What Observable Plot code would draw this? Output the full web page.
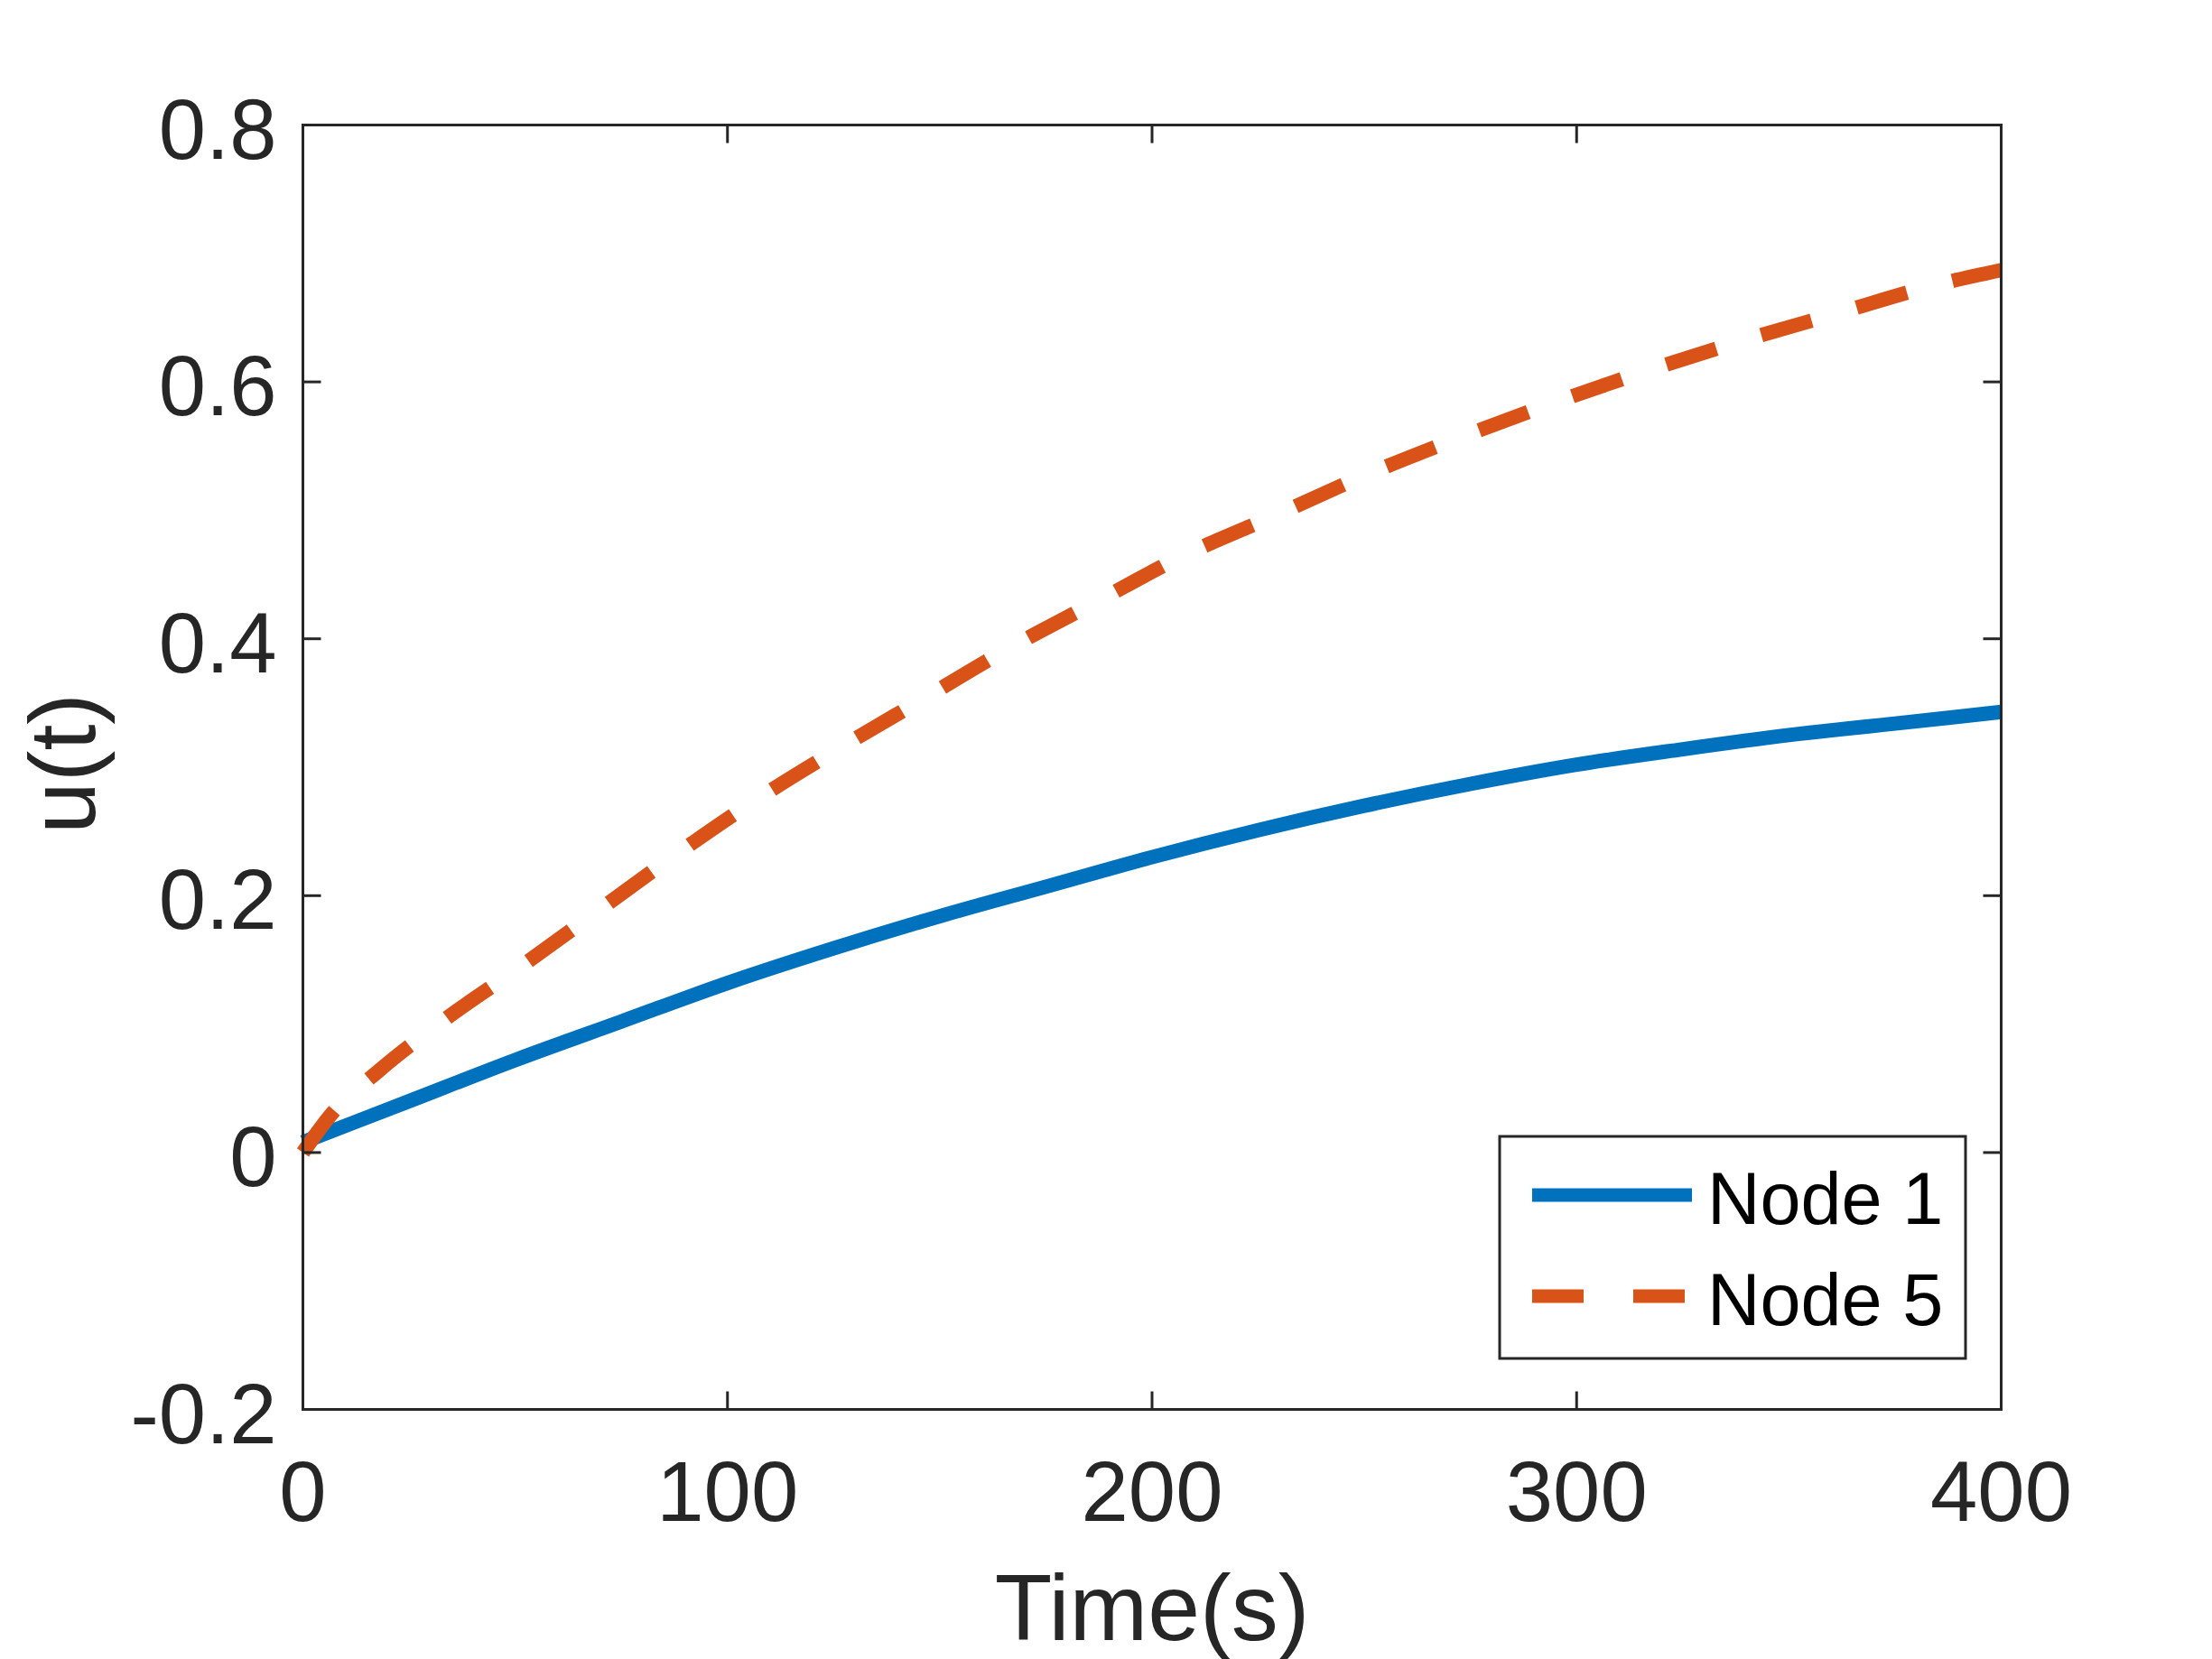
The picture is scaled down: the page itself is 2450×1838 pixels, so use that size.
<!DOCTYPE html>
<html><head><meta charset="utf-8">
<script src="https://cdn.jsdelivr.net/npm/d3@7"></script>
<script src="https://cdn.jsdelivr.net/npm/@observablehq/plot@0.6"></script>
<style>
html,body{margin:0;padding:0;background:#fff;}
#wrap{position:relative;width:2450px;height:1838px;overflow:hidden;}
#wrap svg{display:block;}
#legend{position:absolute;left:0;top:0;pointer-events:none;}
</style></head><body><div id="wrap"></div>
<script>
// ---- data ----
const node1T = [0, 25, 50, 75, 100, 125, 150, 175, 200, 225, 250, 275, 300, 325, 350, 375, 400];
const node1U = [0.008, 0.040, 0.072, 0.102, 0.132, 0.159, 0.184, 0.207, 0.230, 0.251, 0.270, 0.287, 0.302, 0.314, 0.325, 0.334, 0.343];
const node5T = [0, 7, 18, 34, 51, 69, 87, 106, 126, 146, 166, 187, 207, 229, 250, 272, 294, 316, 339, 362, 384, 400];
const node5U = [0, 0.031, 0.064, 0.105, 0.144, 0.187, 0.230, 0.273, 0.314, 0.353, 0.392, 0.429, 0.464, 0.496, 0.527, 0.556, 0.583, 0.608, 0.632, 0.654, 0.675, 0.687];
const seriesNames = ["Node 1", "Node 5"];
const seriesColors = ["#0072BD", "#D95319"];
const xTicks = [0, 100, 200, 300, 400];
const xTickLabels = ["0", "100", "200", "300", "400"];
const yTicks = [-0.2, 0, 0.2, 0.4, 0.6, 0.8];
const yTickLabels = ["-0.2", "0", "0.2", "0.4", "0.6", "0.8"];
const xLabel = "Time(s)";
const yLabel = "u(t)";

// ---- build ----
const FONT = "'Liberation Sans', Arial, Helvetica, sans-serif";
const AX = "#262626";
const node1 = node1T.map((t, i) => ({t, u: node1U[i]}));
const node5 = node5T.map((t, i) => ({t, u: node5U[i]}));
const xMin = xTicks[0], xMax = xTicks[xTicks.length - 1];
const yMin = yTicks[0], yMax = yTicks[yTicks.length - 1];

// inward tick symbol: a line of length 2r in a given direction
function tickSymbol(dx, dy) {
  return {draw(ctx, size) { const l = 2 * Math.sqrt(size / Math.PI); ctx.moveTo(0, 0); ctx.lineTo(dx * l, dy * l); }};
}
const tickStyle = {r: 10, fill: "none", stroke: AX, strokeWidth: 3};

const plot = Plot.plot({
  width: 2450, height: 1838,
  marginLeft: 335, marginRight: 234, marginTop: 138, marginBottom: 277,
  style: {fontFamily: FONT, background: "white", color: AX},
  x: {domain: [xMin, xMax]},
  y: {domain: [yMin, yMax]},
  marks: [
    Plot.line(node1, {x: "t", y: "u", stroke: seriesColors[0], strokeWidth: 16, curve: "monotone-x", strokeLinecap: "butt", strokeLinejoin: "round"}),
    Plot.line(node5, {x: "t", y: "u", stroke: seriesColors[1], strokeWidth: 16, curve: "monotone-x", strokeLinecap: "butt", strokeLinejoin: "round", strokeDasharray: "58,52"}),
    Plot.frame({stroke: AX, strokeWidth: 3}),
    Plot.dot(xTicks, {x: d => d, y: () => yMin, symbol: tickSymbol(0, -1), ...tickStyle}),
    Plot.dot(xTicks, {x: d => d, y: () => yMax, symbol: tickSymbol(0, 1), ...tickStyle}),
    Plot.dot(yTicks, {y: d => d, x: () => xMin, symbol: tickSymbol(1, 0), ...tickStyle}),
    Plot.dot(yTicks, {y: d => d, x: () => xMax, symbol: tickSymbol(-1, 0), ...tickStyle}),
    Plot.axisX({ticks: xTicks, tickSize: 0, tickPadding: 57, tickFormat: d => xTickLabels[xTicks.indexOf(d)], fontSize: 94, fill: AX, label: null}),
    Plot.axisY({ticks: yTicks, tickSize: 0, tickPadding: 29, tickFormat: d => yTickLabels[yTicks.indexOf(d)], fontSize: 94, fill: AX, dy: 7, label: null}),
    Plot.text([xLabel], {frameAnchor: "bottom", text: d => d, lineAnchor: "top", textAnchor: "middle", dy: 182, fontSize: 104, fill: AX}),
    Plot.text([yLabel], {frameAnchor: "left", text: d => d, rotate: -90, lineAnchor: "top", textAnchor: "middle", dx: -304, dy: -4, fontSize: 104, fill: AX})
  ]
});
const wrap = document.getElementById("wrap");
wrap.appendChild(plot);

// ---- legend overlay ----
const lg = d3.select(wrap).append("svg").attr("id", "legend")
  .attr("width", 2450).attr("height", 1838)
  .style("font-family", FONT);
lg.append("rect").attr("x", 1661).attr("y", 1259).attr("width", 516).attr("height", 246)
  .attr("fill", "white").attr("stroke", AX).attr("stroke-width", 3);
seriesNames.forEach((name, i) => {
  const cy = 1324 + i * 112;
  lg.append("line").attr("x1", 1697).attr("x2", 1874).attr("y1", cy).attr("y2", cy)
    .attr("stroke", seriesColors[i]).attr("stroke-width", 15)
    .attr("stroke-dasharray", i === 1 ? "57,55" : null);
  lg.append("text").attr("x", 1891).attr("y", cy + 32).attr("font-size", 81).attr("fill", "#000").text(name);
});
</script>
</body></html>
